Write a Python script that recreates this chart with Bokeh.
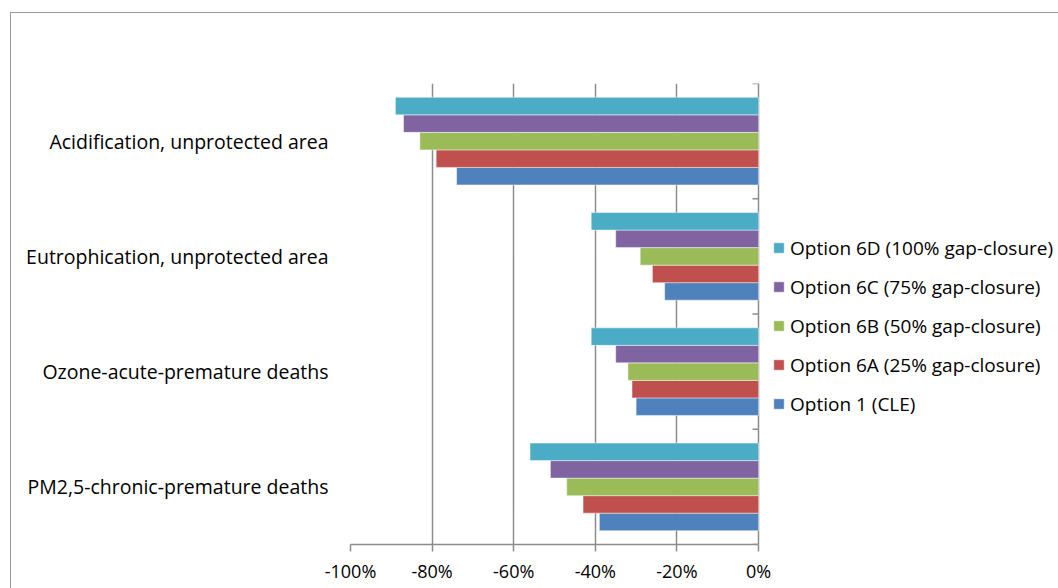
import math
from bokeh.plotting import figure
from bokeh.models import (Range1d, FixedTicker, Legend, LegendItem,
                          PrintfTickFormatter, ColumnDataSource, InlineStyleSheet)
from bokeh.transform import dodge
from bokeh.embed import file_html
from bokeh.resources import INLINE

# ---- data (bottom-to-top category order) ----
categories = ["PM2,5-chronic-premature deaths",
              "Ozone-acute-premature deaths",
              "Eutrophication, unprotected area",
              "Acidification, unprotected area"]
option_1_cle = [-39, -30, -23, -74]
option_6a = [-43, -31, -26, -79]
option_6b = [-47, -32, -29, -83]
option_6c = [-51, -35, -35, -87]
option_6d = [-56, -41, -41, -89]
series_names = ["Option 1 (CLE)", "Option 6A (25% gap-closure)",
                "Option 6B (50% gap-closure)", "Option 6C (75% gap-closure)",
                "Option 6D (100% gap-closure)"]
x_ticks = [-100, -80, -60, -40, -20, 0]

series_values = [option_1_cle, option_6a, option_6b, option_6c, option_6d]
colors = ["#4F81BD", "#C0504D", "#9BBB59", "#8064A2", "#4BACC6"]
FONT = "Open Sans"
FS = "19.5px"
FS_TICK = "18px"
AX = "#8c8c8c"

n_cat = len(categories)
cat_pos = [i + 0.5 for i in range(n_cat)]
edges = list(range(n_cat + 1))

# plot area spans to the right edge so the legend can sit beside the bars;
# the value axis itself is bounded to [-100, 0]
W, H = 1058, 588
LEFT, TOP, BOTTOM = 350, 83, 44
ZERO_PX = 758
px_per_unit = (ZERO_PX - LEFT) / 100.0
x_end = (W - ZERO_PX) / px_per_unit

p = figure(width=W, height=H, output_backend="svg", toolbar_location=None,
           y_range=Range1d(0, n_cat), x_range=Range1d(x_ticks[0], x_end),
           min_border_left=LEFT, min_border_right=0,
           min_border_top=TOP, min_border_bottom=BOTTOM)
p.outline_line_color = None
p.background_fill_color = "white"
p.border_fill_color = "white"

bar_h = 0.152
offsets = [-2 * bar_h, -bar_h, 0, bar_h, 2 * bar_h]
renderers = []
for name, vals, col, off in zip(series_names, series_values, colors, offsets):
    src = ColumnDataSource(dict(y=cat_pos, v=vals))
    r = p.hbar(y=dodge("y", off), left=0, right="v",
               height=bar_h, source=src, fill_color=col,
               line_color="white", line_alpha=0.45, line_width=1)
    renderers.append(r)

# bottom axis
p.xaxis.ticker = FixedTicker(ticks=x_ticks)
p.xaxis.bounds = (x_ticks[0], x_ticks[-1])
p.xaxis.formatter = PrintfTickFormatter(format="%d%%")
p.xaxis.axis_line_color = AX
p.xaxis.axis_line_width = 1.5
p.xaxis.major_tick_line_color = AX
p.xaxis.major_tick_line_width = 1.5
p.xaxis.major_tick_out = 7
p.xaxis.major_tick_in = 0
p.xaxis.minor_tick_line_color = None
p.xaxis.major_label_standoff = 7
p.xaxis.major_label_text_font = FONT
p.xaxis.major_label_text_font_size = FS_TICK
p.xaxis.major_label_text_color = "black"

# left category axis (labels only)
p.yaxis.ticker = FixedTicker(ticks=cat_pos)
p.yaxis.major_label_overrides = {pos: c for pos, c in zip(cat_pos, categories)}
p.yaxis.axis_line_color = None
p.yaxis.major_tick_line_color = None
p.yaxis.major_tick_out = 0
p.yaxis.major_tick_in = 0
p.yaxis.minor_tick_line_color = None
p.yaxis.major_label_standoff = 22
p.yaxis.major_label_text_font = FONT
p.yaxis.major_label_text_font_size = FS
p.yaxis.major_label_text_color = "black"

# vertical gridlines (the one at 0 is the category axis line)
p.xgrid.ticker = FixedTicker(ticks=x_ticks)
p.xgrid.grid_line_color = AX
p.xgrid.grid_line_width = 1.5
p.ygrid.visible = False

# short category-boundary tick marks on the 0 line, pointing left
p.ray(x=[0] * len(edges), y=edges, length=6, length_units="screen",
      angle=math.pi, line_color=AX, line_width=1.5)

# legend (top to bottom: 6D ... CLE)
items = [LegendItem(label=n, renderers=[r]) for n, r in
         reversed(list(zip(series_names, renderers)))]
legend = Legend(items=items, location=(422, 127), orientation="vertical",
                glyph_width=13, glyph_height=13, label_standoff=5,
                label_height=27, spacing=12, padding=0, margin=0,
                border_line_color=None, background_fill_alpha=0,
                label_text_font=FONT, label_text_font_size="19px",
                label_text_color="black")
p.add_layout(legend, "center")

# outer chart border (top and left edges; right/bottom lie outside the window)
p.stylesheets = [InlineStyleSheet(css="""
:host { position: relative; }
:host::after { content: ""; position: absolute; left: 10px; top: 12px;
  right: 0; bottom: 0; border-top: 1.5px solid #999999;
  border-left: 1.5px solid #999999; pointer-events: none; z-index: 5; }
""")]

open("out.html", "w").write(file_html(p, INLINE))
